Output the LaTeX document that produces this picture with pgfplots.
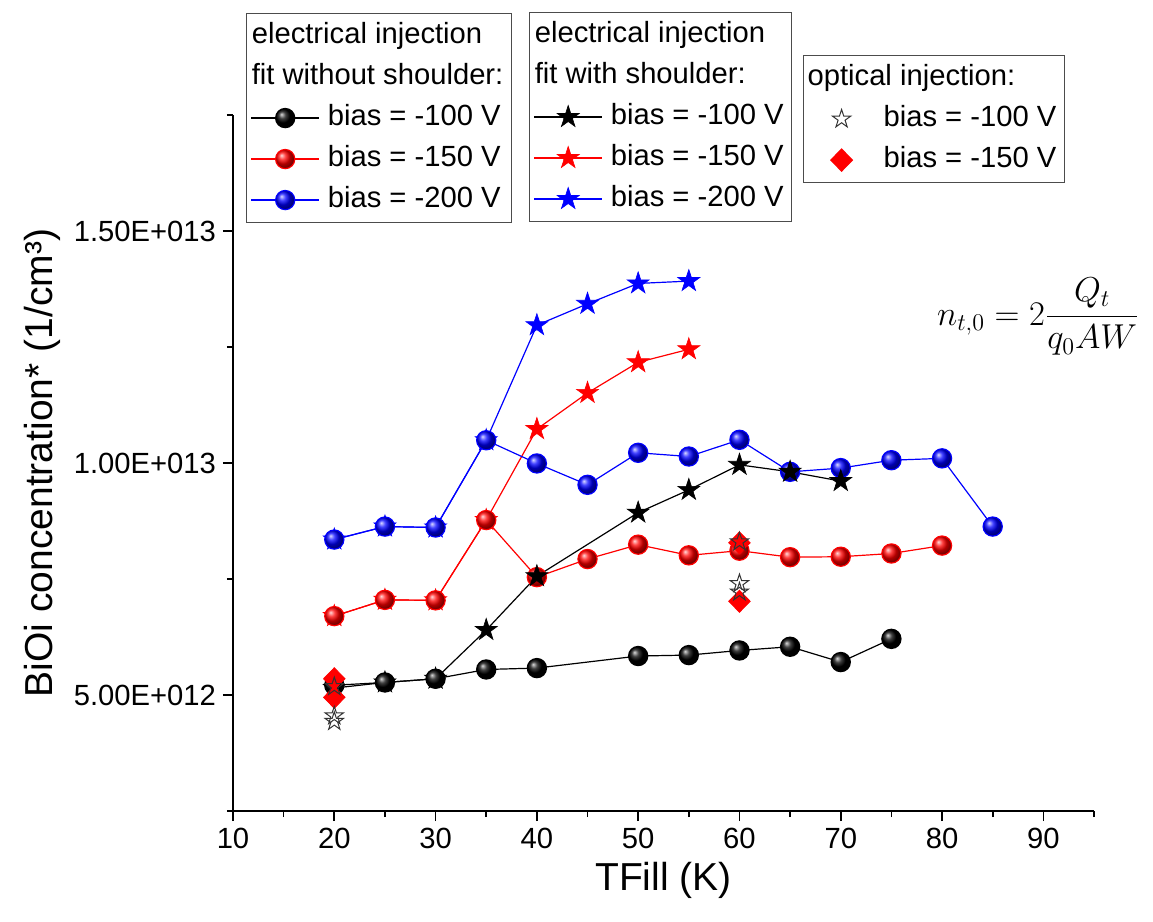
\documentclass[border=0pt]{standalone}
\usepackage[no-math]{fontspec}
\setmainfont{Liberation Sans}
\usepackage{pgfplots}
\pgfplotsset{compat=1.18}

\pgfdeclareplotmark{fstar}{%
 \pgfpathmoveto{\pgfqpoint{0pt}{\pgfplotmarksize}}%
 \pgfpathlineto{\pgfqpoint{-0.2245\pgfplotmarksize}{0.3090\pgfplotmarksize}}%
 \pgfpathlineto{\pgfqpoint{-0.9511\pgfplotmarksize}{0.3090\pgfplotmarksize}}%
 \pgfpathlineto{\pgfqpoint{-0.3633\pgfplotmarksize}{-0.1180\pgfplotmarksize}}%
 \pgfpathlineto{\pgfqpoint{-0.5878\pgfplotmarksize}{-0.8090\pgfplotmarksize}}%
 \pgfpathlineto{\pgfqpoint{0pt}{-0.382\pgfplotmarksize}}%
 \pgfpathlineto{\pgfqpoint{0.5878\pgfplotmarksize}{-0.8090\pgfplotmarksize}}%
 \pgfpathlineto{\pgfqpoint{0.3633\pgfplotmarksize}{-0.1180\pgfplotmarksize}}%
 \pgfpathlineto{\pgfqpoint{0.9511\pgfplotmarksize}{0.3090\pgfplotmarksize}}%
 \pgfpathlineto{\pgfqpoint{0.2245\pgfplotmarksize}{0.3090\pgfplotmarksize}}%
 \pgfpathclose\pgfusepathqfillstroke}
\pgfdeclareplotmark{ostar}{%
 \pgfpathmoveto{\pgfqpoint{0pt}{\pgfplotmarksize}}%
 \pgfpathlineto{\pgfqpoint{-0.2245\pgfplotmarksize}{0.3090\pgfplotmarksize}}%
 \pgfpathlineto{\pgfqpoint{-0.9511\pgfplotmarksize}{0.3090\pgfplotmarksize}}%
 \pgfpathlineto{\pgfqpoint{-0.3633\pgfplotmarksize}{-0.1180\pgfplotmarksize}}%
 \pgfpathlineto{\pgfqpoint{-0.5878\pgfplotmarksize}{-0.8090\pgfplotmarksize}}%
 \pgfpathlineto{\pgfqpoint{0pt}{-0.382\pgfplotmarksize}}%
 \pgfpathlineto{\pgfqpoint{0.5878\pgfplotmarksize}{-0.8090\pgfplotmarksize}}%
 \pgfpathlineto{\pgfqpoint{0.3633\pgfplotmarksize}{-0.1180\pgfplotmarksize}}%
 \pgfpathlineto{\pgfqpoint{0.9511\pgfplotmarksize}{0.3090\pgfplotmarksize}}%
 \pgfpathlineto{\pgfqpoint{0.2245\pgfplotmarksize}{0.3090\pgfplotmarksize}}%
 \pgfpathclose\pgfusepathqstroke}

\pgfplotsset{
 sphS/.style={line width=0.6pt, color=#1, mark=ball, mark size=4.8pt, mark options={ball color=#1}},
 starS/.style={line width=0.6pt, color=#1, mark=fstar, mark size=5.8pt, mark options={fill=#1, draw=#1, line width=0.3pt}},
 ostarS/.style={only marks, mark=ostar, mark size=4.8pt, mark options={draw=black!80, line width=0.5pt}},
 diaS/.style={only marks, color=red, mark=diamond*, mark size=5.5pt, mark options={fill=red, draw=red, xscale=1.3}},
 base/.style={at={(0,0)}, anchor=south west, scale only axis, width=430.5pt, height=348pt,
   xmin=10, xmax=95, ymin=2.5e12, ymax=1.75e13},
 mylegend/.style={legend cell align=left,
   legend style={draw=black!70, line width=0.6pt, font=\fontsize{14.6}{17}\selectfont,
     inner xsep=2pt, inner ysep=1pt, row sep=0pt, column sep=2pt,
     nodes={text height=11pt, text depth=3.5pt, inner ysep=3pt, inner xsep=2pt},
     anchor=north west, at={#1}},
   legend image code/.code={\path[draw=none,fill=none] (0pt,0pt) -- (34pt,0pt);
     \draw[mark repeat=2,mark phase=2,##1] plot coordinates {(0pt,0pt) (17pt,0pt) (34pt,0pt)};}},
}

\begin{document}
\begin{tikzpicture}
\useasboundingbox (-116.5pt,-55.5pt) rectangle (460pt,405.5pt);
\begin{axis}[base,
  axis lines=left, axis line style={line width=1pt, -},
  xtick={10,20,...,90}, minor xtick={15,25,...,95},
  ytick={5e12,1e13,1.5e13}, yticklabels={5.00E+012,1.00E+013,1.50E+013},
  minor ytick={2.5e12,7.5e12,1.25e13,1.75e13},
  scaled y ticks=false,
  tick align=outside, major tick length=5pt, minor tick length=3pt,
  tick style={line width=0.8pt, black},
  ticklabel style={font=\fontsize{14.6}{17}\selectfont},
  /pgf/number format/assume math mode=true,
  xlabel={TFill (K)}, ylabel={BiOi concentration* (1/cm³)},
  label style={font=\fontsize{19.5}{23}\selectfont},
  clip=false,
  mylegend={(axis description cs:0.0151,1.1466)},
]
% fit with shoulder, -150 V
\addplot[forget plot, starS=red] coordinates {(20,6.70e12) (25,7.05e12) (30,7.04e12) (35,8.77e12) (40,10.73e12) (45,11.51e12) (50,12.17e12) (55,12.45e12)};
% without shoulder, -150 V
\addplot[forget plot, sphS=red] coordinates {(20,6.70e12) (25,7.05e12) (30,7.04e12) (35,8.77e12) (40,7.54e12) (45,7.93e12) (50,8.24e12) (55,8.01e12) (60,8.11e12) (65,7.97e12) (70,7.98e12) (75,8.05e12) (80,8.22e12)};
% fit with shoulder, -200 V
\addplot[forget plot, starS=blue] coordinates {(20,8.35e12) (25,8.63e12) (30,8.61e12) (35,10.49e12) (40,12.97e12) (45,13.43e12) (50,13.87e12) (55,13.92e12)};
% without shoulder, -200 V
\addplot[forget plot, sphS=blue] coordinates {(20,8.35e12) (25,8.63e12) (30,8.61e12) (35,10.49e12) (40,9.99e12) (45,9.53e12) (50,10.22e12) (55,10.14e12) (60,10.50e12) (65,9.81e12) (70,9.89e12) (75,10.06e12) (80,10.10e12) (85,8.63e12)};
% fit with shoulder, -100 V
\addplot[forget plot, starS=black] coordinates {(20,5.15e12) (25,5.27e12) (30,5.35e12) (35,6.40e12) (40,7.56e12) (50,8.93e12) (55,9.42e12) (60,9.96e12) (65,9.81e12) (70,9.61e12)};
% without shoulder, -100 V
\addplot[forget plot, sphS=black] coordinates {(20,5.21e12) (25,5.27e12) (30,5.35e12) (35,5.55e12) (40,5.58e12) (50,5.84e12) (55,5.86e12) (60,5.96e12) (65,6.04e12) (70,5.71e12) (75,6.21e12)};
% optical, -150 V
\addplot[forget plot, diaS] coordinates {(20,5.35e12) (20,4.95e12) (60,8.28e12) (60,7.02e12)};
% optical, -100 V
\addplot[forget plot, ostarS] coordinates {(20,5.18e12) (20,4.55e12) (20,4.43e12) (60,8.30e12) (60,7.40e12) (60,7.22e12)};

\addlegendimage{empty legend}\addlegendentry{\hspace*{-38pt}electrical injection}
\addlegendimage{empty legend}\addlegendentry{\hspace*{-38pt}fit without shoulder:}
\addlegendimage{sphS=black}\addlegendentry{bias = -100 V}
\addlegendimage{sphS=red}\addlegendentry{bias = -150 V}
\addlegendimage{sphS=blue}\addlegendentry{bias = -200 V}

\node at (axis cs:89.5,13.15e12) {\fontsize{17.5}{21}\selectfont $\displaystyle n_{t,0}=2\frac{Q_t}{q_0AW}$};
\end{axis}

\begin{axis}[base, hide axis, mylegend={(axis description cs:0.3438,1.148)}]
\addlegendimage{empty legend}\addlegendentry{\hspace*{-38pt}electrical injection}
\addlegendimage{empty legend}\addlegendentry{\hspace*{-38pt}fit with shoulder:}
\addlegendimage{starS=black}\addlegendentry{bias = -100 V}
\addlegendimage{starS=red}\addlegendentry{bias = -150 V}
\addlegendimage{starS=blue}\addlegendentry{bias = -200 V}
\end{axis}

\begin{axis}[base, hide axis, mylegend={(axis description cs:0.662,1.0862)}]
\addlegendimage{empty legend}\addlegendentry{\hspace*{-38pt}optical injection:}
\addlegendimage{ostarS}\addlegendentry{bias = -100 V}
\addlegendimage{diaS}\addlegendentry{bias = -150 V}
\end{axis}
\end{tikzpicture}
\end{document}
